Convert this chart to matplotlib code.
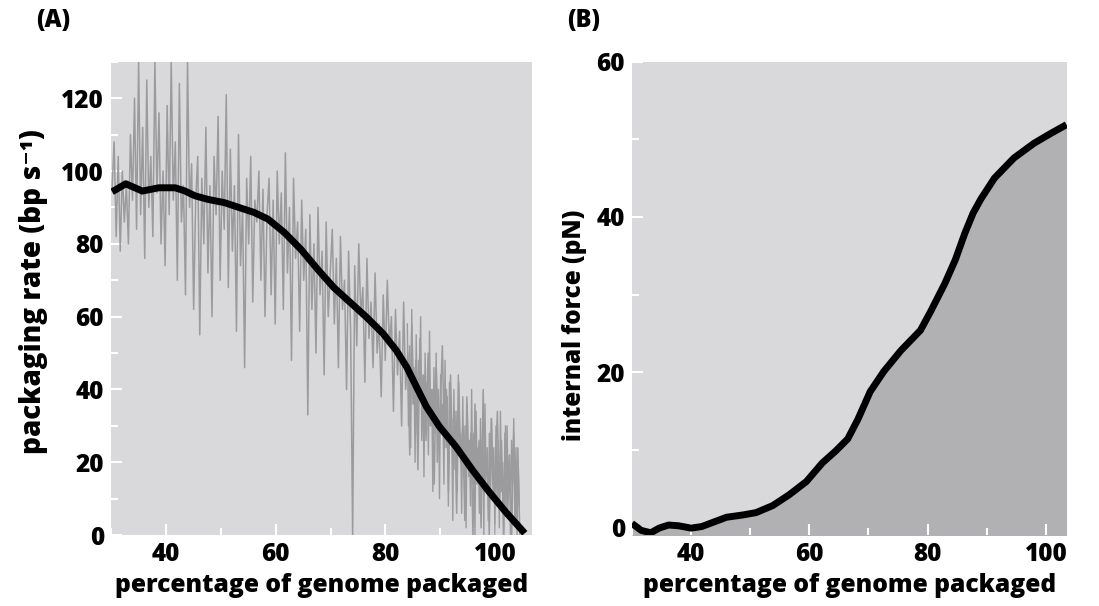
import numpy as np
import matplotlib
matplotlib.use("Agg")
import matplotlib.pyplot as plt
from matplotlib.ticker import MultipleLocator

plt.rcParams['font.family'] = ['Open Sans', 'DejaVu Sans']

# ---- Panel A data ----
rate_trace = [
    95, 108, 82, 104, 78, 100, 86, 96, 80, 110, 92, 120, 84, 130, 88, 112, 76, 125, 90, 104, 82, 130, 94, 116, 80, 100, 74,
    118, 88, 130, 92, 108, 70, 124, 86, 96, 66, 130, 90, 102, 62, 92, 104, 55, 98, 80, 112, 72, 96, 60, 104, 88, 115, 70,
    100, 84, 121, 68, 106, 78, 96, 56, 110, 74, 90, 46, 98, 80, 104, 64, 92, 86, 100, 70, 95, 60, 88, 98, 66, 92, 58,
    100, 80, 94, 62, 105, 72, 90, 48, 98, 76, 86, 56, 92, 70, 84, 33, 88, 62, 80, 50, 90, 66, 78, 44, 86, 60, 72,
    84, 58, 76, 46, 82, 62, 70, 40, 78, 56, 0, 74, 52, 80, 60, 68, 42, 76, 54, 64, 46, 72, 50, 58, 38, 66, 48,
    70, 52, 60, 34, 62, 44, 56, 30, 64, 40, 50, 22, 58, 36, 48, 18, 54, 34, 44, 26, 50, 30, 40, 14, 46, 28, 36,
    52, 24, 40, 12, 44, 22, 34, 6, 42, 20, 30, 4, 38, 16, 28, 0, 36, 14, 26, 2, 40, 12, 24, 0, 32, 10, 20,
    34, 8, 26, 0, 30, 6, 22, 0, 28, 4, 24, 0,
]
trace_start, trace_end = 30.2, 104.5

# denser part of the trace near the end of packaging
rate_trace_end = [
    58, 30, 52, 24, 62, 36, 46, 20, 55, 28, 48, 38, 60, 26, 44, 16, 50, 34, 42, 22, 56, 30, 40, 12, 46,
    28, 50, 20, 40, 10, 44, 30, 36, 14, 48, 24, 38, 8, 42, 26, 32, 4, 40, 18, 34, 12, 44, 22, 28, 6,
    38, 16, 30, 2, 36, 20, 26, 8, 40, 14, 28, 0, 34, 18, 24, 6, 32, 12, 30, 0, 36, 16, 22, 4, 28,
    10, 32, 14, 24, 0, 30, 8, 26, 2, 34, 12, 20, 0, 28, 6, 30, 10, 22, 0, 26, 14, 32, 4, 24, 0, 20, 8,
]
trace_end_start, trace_end_end = 84.0, 104.4

rate_x = [30.2, 32.7, 35.7, 38.7, 41.7, 43.5, 45.3, 47.7, 50.7, 53.7, 56.1, 58.6, 61.6, 64.6,
          67.6, 70.6, 73.6, 76.6, 79.6, 82.0, 83.9, 85.7, 87.5, 89.9, 92.9, 95.9, 98.9, 101.9, 105.4]
rate_smooth = [94.3, 96.5, 94.5, 95.4, 95.4, 94.5, 93.2, 92.2, 91.3, 89.8, 88.6, 86.8, 83.1, 78.5,
               73.1, 68.0, 63.9, 59.8, 55.3, 50.7, 46.1, 40.6, 35.2, 29.7, 24.2, 17.8, 11.9, 6.4, 0.5]

# ---- Panel B data ----
force_x = [30.0, 31.6, 33.2, 34.6, 36.2, 37.9, 40.0, 41.8, 43.9, 46.0, 48.8, 51.0, 53.8, 56.6,
           59.5, 62.2, 64.4, 66.5, 68.2, 70.3, 72.6, 75.5, 78.8, 80.5, 82.9, 84.7, 86.3, 87.7,
           89.0, 91.3, 94.6, 98.0, 100.9, 103.5]
force_y = [0.5, -0.4, -0.7, -0.1, 0.3, 0.2, -0.1, 0.1, 0.7, 1.3, 1.6, 1.9, 2.8, 4.2,
           5.9, 8.3, 9.8, 11.4, 13.9, 17.5, 20.1, 22.8, 25.4, 27.8, 31.4, 34.5, 37.9, 40.5,
           42.3, 45.0, 47.6, 49.5, 50.8, 51.9]

bg = '#d9d9db'
fill_col = '#b1b1b4'
trace_col = '#9b9b9e'
W = 'extra bold'

fig = plt.figure(figsize=(10.99, 6.06), dpi=100)
axA = fig.add_axes([0.101, 0.117, 0.383, 0.781])
axB = fig.add_axes([0.575, 0.117, 0.396, 0.781])

axA.set_facecolor(bg)
tx = np.linspace(trace_start, trace_end, len(rate_trace))
axA.plot(tx, rate_trace, color=trace_col, lw=1.1, zorder=2)
tx2 = np.linspace(trace_end_start, trace_end_end, len(rate_trace_end))
axA.plot(tx2, rate_trace_end, color=trace_col, lw=1.0, zorder=2)
axA.plot(rate_x, rate_smooth, color='black', lw=5, solid_capstyle='butt',
         solid_joinstyle='round', zorder=3)
axA.set_xlim(30, 106.7)
axA.set_ylim(0, 130)

axB.set_facecolor(bg)
axB.fill_between(force_x, force_y, -5, color=fill_col, lw=0, zorder=1)
axB.plot(force_x, force_y, color='black', lw=5, solid_capstyle='butt',
         solid_joinstyle='round', zorder=3)
axB.set_xlim(30, 103.6)
axB.set_ylim(-1.0, 60)

for ax in (axA, axB):
    for s in ax.spines.values():
        s.set_visible(False)
    ax.xaxis.set_major_locator(MultipleLocator(20))
    ax.xaxis.set_minor_locator(MultipleLocator(10))
    ax.yaxis.set_major_locator(MultipleLocator(20))
    ax.yaxis.set_minor_locator(MultipleLocator(10))
    ax.tick_params(which='major', direction='in', length=8, width=1.5, color='white',
                   labelsize=17.5, pad=5)
    ax.tick_params(which='minor', direction='in', length=5, width=1.5, color='white')
    ax.set_xlabel('percentage of genome packaged', fontsize=17.7, fontweight=W, labelpad=4)

axA.set_xticks([40, 60, 80, 100])
axB.set_xticks([40, 60, 80, 100])
axA.set_yticks([0, 20, 40, 60, 80, 100, 120])
axB.set_yticks([0, 20, 40, 60])
for ax in (axA, axB):
    for lab in ax.get_xticklabels() + ax.get_yticklabels():
        lab.set_fontweight(W)

axA.set_ylabel('packaging rate (bp s\u207b\u00b9)', fontsize=20, fontweight=W)
axA.yaxis.set_label_coords(-0.15, 0.514)
axB.set_ylabel('internal force (pN)', fontsize=17.5, fontweight=W)
axB.yaxis.set_label_coords(-0.103, 0.444)

fig.text(0.033, 0.966, '(A)', fontsize=17, fontweight=W, va='center', ha='left')
fig.text(0.516, 0.966, '(B)', fontsize=17, fontweight=W, va='center', ha='left')

fig.savefig('out.png', dpi=100, facecolor='white')
